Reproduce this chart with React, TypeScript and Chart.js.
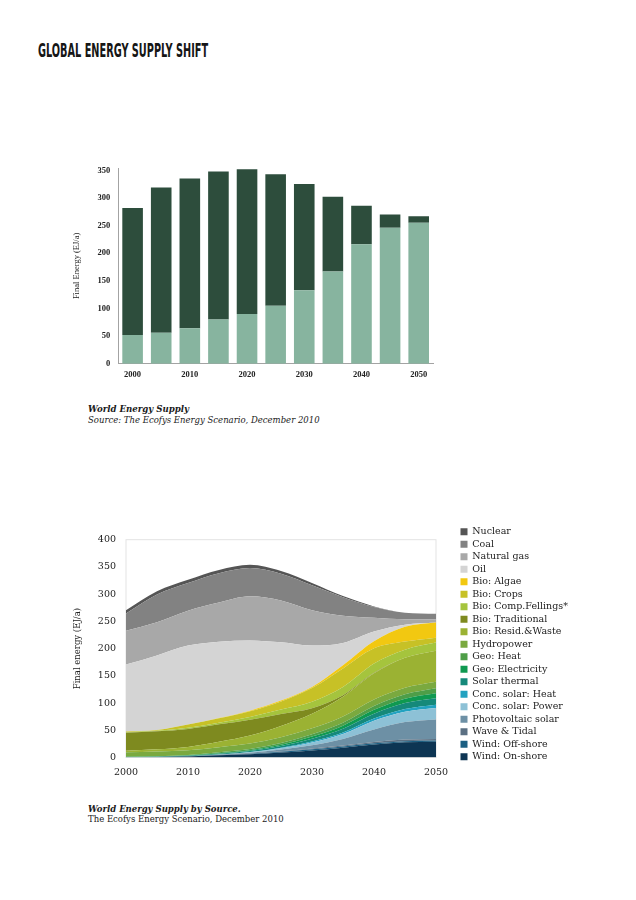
import React, { useEffect, useRef } from "react";
import { Chart, registerables } from "chart.js";

Chart.register(...registerables);

// ---------- Top chart data (World Energy Supply) ----------
const barYears = ["2000", "2005", "2010", "2015", "2020", "2025", "2030", "2035", "2040", "2045", "2050"];
const barXTickLabels = ["2000", "2010", "2020", "2030", "2040", "2050"];
const barYTicks = [0, 50, 100, 150, 200, 250, 300, 350];
const renewableSupply = [52, 56, 64, 80, 90, 105, 133, 167, 216, 246, 255];
const nonRenewableSupply = [230, 263, 271, 268, 262, 238, 192, 135, 70, 24, 12];

// ---------- Bottom chart data (World Energy Supply by Source) ----------
const areaYears = [2000, 2005, 2010, 2015, 2020, 2025, 2030, 2035, 2040, 2045, 2050];
const areaXTicks = [2000, 2010, 2020, 2030, 2040, 2050];
const areaYTicks = [0, 50, 100, 150, 200, 250, 300, 350, 400];

const windOnshore = [0.5, 1, 2, 4, 6, 9, 13, 18, 24, 28, 29];
const windOffshore = [0, 0, 0, 0.5, 1, 1.5, 2, 2, 2, 2, 2];
const waveTidal = [0, 0, 0, 0, 0.5, 1, 1.5, 2, 2.5, 3, 3];
const photovoltaic = [0, 0, 0, 0.5, 1, 3, 6, 12, 23, 32, 36];
const concSolarPower = [0, 0, 0, 0.5, 1, 2.5, 5, 9, 16, 19, 21];
const concSolarHeat = [0, 0, 0, 0, 0.5, 1, 2, 3, 4, 5, 6];
const solarThermal = [0.5, 0.5, 1, 1.5, 2, 3, 5, 7, 9, 11, 12];
const geoElectricity = [0.3, 0.5, 0.5, 1, 1.5, 2.5, 4, 5.5, 7, 8, 9];
const geoHeat = [0.3, 0.5, 1, 1.5, 2, 3, 4, 5.5, 7, 8, 9];
const hydropower = [8, 8.5, 9, 9.5, 10, 10.5, 11, 11.5, 12, 12, 12];
const bioResidWaste = [3, 4, 6, 10, 15, 21, 27, 36, 48, 55, 57];
const bioTraditional = [33, 33, 33, 32, 29, 22, 10, 3, 1, 0, 0];
const bioCompFellings = [1, 1, 2, 3, 5, 8, 12, 15, 17, 15, 15];
const bioCrops = [1, 1.5, 6, 8, 10.5, 15, 25, 34, 28, 15, 9];
const bioAlgae = [0, 0, 0, 0.5, 1, 1.5, 2, 6, 13, 27, 28];
const oil = [123, 137, 145, 140, 129, 107, 76, 41, 18, 4, 0];
const naturalGas = [62, 61, 64, 72, 81, 77, 65, 50, 25, 10, 6];
const coal = [32, 51, 51, 54, 52, 49, 46, 34, 20, 12, 10];
const nuclear = [6, 6, 6, 6, 6, 5, 4, 2, 1, 0, 0];

// stacked bottom -> top
const layers = [
  { label: "Wind: On-shore", data: windOnshore, color: "#0d3553" },
  { label: "Wind: Off-shore", data: windOffshore, color: "#1b5f82" },
  { label: "Wave & Tidal", data: waveTidal, color: "#5b7083" },
  { label: "Photovoltaic solar", data: photovoltaic, color: "#6d90a5" },
  { label: "Conc. solar: Power", data: concSolarPower, color: "#8dc1d6" },
  { label: "Conc. solar: Heat", data: concSolarHeat, color: "#22a2c0" },
  { label: "Solar thermal", data: solarThermal, color: "#15897a" },
  { label: "Geo: Electricity", data: geoElectricity, color: "#0f9950" },
  { label: "Geo: Heat", data: geoHeat, color: "#4e9e48" },
  { label: "Hydropower", data: hydropower, color: "#7aa93f" },
  { label: "Bio: Resid.&Waste", data: bioResidWaste, color: "#9bb233" },
  { label: "Bio: Traditional", data: bioTraditional, color: "#7e8a1f" },
  { label: "Bio: Comp.Fellings*", data: bioCompFellings, color: "#a5c43d" },
  { label: "Bio: Crops", data: bioCrops, color: "#c7c126" },
  { label: "Bio: Algae", data: bioAlgae, color: "#f2c811" },
  { label: "Oil", data: oil, color: "#d4d4d4" },
  { label: "Natural gas", data: naturalGas, color: "#a8a8a8" },
  { label: "Coal", data: coal, color: "#828282" },
  { label: "Nuclear", data: nuclear, color: "#555555" },
];

const SERIF = "'DejaVu Serif', 'Liberation Serif', serif";
const TIMES = "'Liberation Serif', serif";

// bottom chart geometry
const B_LEFT = 40;
const B_TOP = 524;
const B_WIDTH = 560;
const B_HEIGHT = 257;
const PLOT_LEFT = 126; // page x of plot left edge
const PLOT_RIGHT = 437; // page x of plot right edge
const LEGEND_GAP = 21.5;
const LEGEND_FONT = 9.5;
const LEGEND_PAD = 3;
const LEGEND_BOX = 7;
const LEGEND_EXTRA = 9; // extra width Chart.js reserves around the legend column

const framePlugin = {
  id: "frame",
  beforeDatasetsDraw(chart: any) {
    const { ctx, chartArea: a } = chart;
    ctx.save();
    ctx.strokeStyle = "#e3e3e3";
    ctx.lineWidth = 1;
    ctx.strokeRect(a.left, a.top, a.right - a.left, a.bottom - a.top);
    ctx.restore();
  },
};

const legendShiftPlugin = {
  id: "legendShift",
  afterLayout(chart: any) {
    const lg = chart.legend;
    if (!lg) return;
    const dx = chart.chartArea.right + LEGEND_GAP - lg.left;
    lg.left += dx;
    lg.right += dx;
  },
};

function TopChart() {
  const ref = useRef<HTMLCanvasElement>(null);
  useEffect(() => {
    const chart = new Chart(ref.current as HTMLCanvasElement, {
      type: "bar",
      data: {
        labels: barYears,
        datasets: [
          { label: "Renewable", data: renewableSupply, backgroundColor: "#87b49f", barPercentage: 0.72, categoryPercentage: 1 },
          { label: "Non-renewable", data: nonRenewableSupply, backgroundColor: "#2d4d3c", barPercentage: 0.72, categoryPercentage: 1 },
        ],
      },
      options: {
        animation: false,
        responsive: true,
        maintainAspectRatio: false,
        layout: { padding: { top: 12.8, right: 17, left: 0, bottom: 0 } },
        plugins: { legend: { display: false }, tooltip: { enabled: false } },
        scales: {
          x: {
            stacked: true,
            grid: { display: false, drawTicks: false },
            border: { display: true, color: "#a3a3a3" },
            ticks: {
              autoSkip: false,
              maxRotation: 0,
              padding: 6,
              color: "#222",
              font: { family: TIMES, size: 8.5, weight: "bold" },
              callback: (_v: any, i: number) => (barXTickLabels.includes(barYears[i]) ? barYears[i] : ""),
            },
            afterFit: (s: any) => {
              s.height = 26.3;
            },
          },
          y: {
            stacked: true,
            min: 0,
            max: 354,
            grid: { display: false, drawTicks: false },
            border: { display: true, color: "#a3a3a3" },
            afterBuildTicks: (s: any) => {
              s.ticks = barYTicks.map((v) => ({ value: v }));
            },
            ticks: { padding: 8, color: "#222", font: { family: TIMES, size: 8.5, weight: "bold" } },
            afterFit: (s: any) => {
              s.width = 58.3;
            },
            title: {
              display: true,
              text: "Final Energy (EJ/a)",
              color: "#222",
              font: { family: TIMES, size: 8.5 },
              padding: { top: 12, bottom: 0 },
            },
          },
        },
      },
    } as any);
    return () => chart.destroy();
  }, []);
  return (
    <div style={{ position: "absolute", left: 60, top: 155, width: 390, height: 235 }}>
      <canvas ref={ref} />
    </div>
  );
}

function BottomChart() {
  const ref = useRef<HTMLCanvasElement>(null);
  useEffect(() => {
    // measure legend width so the plot's right edge lands where the reference has it
    const mctx = document.createElement("canvas").getContext("2d") as CanvasRenderingContext2D;
    mctx.font = `normal ${LEGEND_FONT}px ${SERIF}`;
    const maxText = Math.max(...layers.map((l) => mctx.measureText(l.label).width));
    const legendWidth = LEGEND_PAD + LEGEND_BOX + LEGEND_FONT / 2 + maxText + LEGEND_EXTRA;
    const rightPad = Math.max(0, B_LEFT + B_WIDTH - PLOT_RIGHT - legendWidth);
    const yAxisWidth = PLOT_LEFT - B_LEFT;

    const chart = new Chart(ref.current as HTMLCanvasElement, {
      type: "line",
      data: {
        datasets: layers.map((l, i) => ({
          label: l.label,
          data: areaYears.map((x, j) => ({ x, y: l.data[j] })),
          backgroundColor: l.color,
          borderColor: l.color,
          borderWidth: 0,
          pointRadius: 0,
          fill: i === 0 ? "origin" : "-1",
          cubicInterpolationMode: "monotone",
          xAxisID: "x",
          yAxisID: "y",
        })),
      },
      options: {
        animation: false,
        responsive: true,
        maintainAspectRatio: false,
        layout: { padding: { left: 0, top: 0, bottom: 0, right: rightPad } },
        plugins: {
          tooltip: { enabled: false },
          legend: {
            position: "right",
            align: "start",
            reverse: true,
            labels: {
              boxWidth: LEGEND_BOX,
              boxHeight: LEGEND_BOX,
              padding: LEGEND_PAD,
              color: "#222",
              font: { family: SERIF, size: LEGEND_FONT, lineHeight: 1.1 },
            },
          },
        },
        scales: {
          x: {
            type: "linear",
            min: 2000,
            max: 2050,
            grid: { display: false, drawTicks: false },
            border: { display: false },
            afterBuildTicks: (s: any) => {
              s.ticks = areaXTicks.map((v) => ({ value: v }));
            },
            ticks: { padding: 9, color: "#222", font: { family: SERIF, size: 9.5 }, callback: (v: any) => String(v) },
            afterFit: (s: any) => {
              s.height = 23.5;
            },
          },
          y: {
            stacked: true,
            min: 0,
            max: 400,
            grid: { display: false, drawTicks: false },
            border: { display: false },
            afterBuildTicks: (s: any) => {
              s.ticks = areaYTicks.map((v) => ({ value: v }));
            },
            ticks: { padding: 10, color: "#222", font: { family: SERIF, size: 9.5 } },
            afterFit: (s: any) => {
              s.width = yAxisWidth;
            },
            title: {
              display: true,
              text: "Final energy (EJ/a)",
              color: "#222",
              font: { family: SERIF, size: 8.5 },
              padding: { top: 2.5 + (70 - B_LEFT), bottom: 0 },
            },
          },
          xTop: {
            type: "linear",
            axis: "x",
            position: "top",
            display: true,
            ticks: { display: false },
            grid: { display: false, drawTicks: false },
            border: { display: false },
            afterFit: (s: any) => {
              s.height = 9;
            },
          },
        },
      },
      plugins: [framePlugin, legendShiftPlugin],
    } as any);
    return () => chart.destroy();
  }, []);
  return (
    <div style={{ position: "absolute", left: B_LEFT, top: B_TOP, width: B_WIDTH, height: B_HEIGHT }}>
      <canvas ref={ref} />
    </div>
  );
}

const textBase: React.CSSProperties = {
  position: "absolute",
  whiteSpace: "nowrap",
  color: "#1a1a1a",
  lineHeight: 1,
  margin: 0,
};

export default function App() {
  return (
    <div>
      <div
        style={{
          ...textBase,
          left: 38,
          top: 40.6,
          fontFamily: "'DejaVu Sans Condensed', 'DejaVu Sans', sans-serif",
          fontWeight: "bold",
          fontSize: 19,
          lineHeight: "19px",
          transform: "scaleX(0.57)",
          transformOrigin: "left top",
          color: "#161616",
        }}
      >
        GLOBAL ENERGY SUPPLY SHIFT
      </div>
      <TopChart />
      <div style={{ ...textBase, left: 88, top: 405, fontFamily: SERIF, fontSize: 8.6, fontWeight: "bold", fontStyle: "italic" }}>
        World Energy Supply
      </div>
      <div style={{ ...textBase, left: 88, top: 416, fontFamily: SERIF, fontSize: 8.5, fontStyle: "italic" }}>
        Source: The Ecofys Energy Scenario, December 2010
      </div>
      <BottomChart />
      <div style={{ ...textBase, left: 88, top: 805.3, fontFamily: SERIF, fontSize: 8.5, fontWeight: "bold", fontStyle: "italic" }}>
        World Energy Supply by Source.
      </div>
      <div style={{ ...textBase, left: 88, top: 814.5, fontFamily: SERIF, fontSize: 8.5 }}>
        The Ecofys Energy Scenario, December 2010
      </div>
    </div>
  );
}
